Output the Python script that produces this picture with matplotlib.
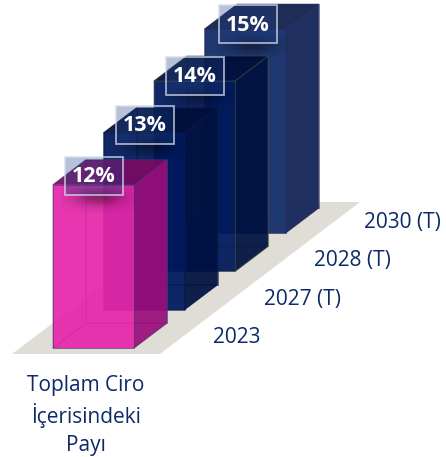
import matplotlib
matplotlib.use("Agg")
import matplotlib.pyplot as plt
import numpy as np
from matplotlib.patches import Polygon, Rectangle

plt.rcParams['font.family'] = ['Open Sans', 'DejaVu Sans']

years = ['2023', '2027 (T)', '2028 (T)', '2030 (T)']
values = [12, 13, 14, 15]
value_labels = ['12%', '13%', '14%', '15%']
row_title = ['Toplam Ciro', 'İçerisindeki', 'Payı']

# depth is faked with an oblique projection, all in pixels
UNIT_H = 13.6
STEP_X, STEP_Y = 50.5, -38.3
BOX_W = 81
DEPTH_X, DEPTH_Y = 33, -25
X0, Y0 = 53, 348

box_styles = [
    {'front': '#e626aa', 'side': '#980c7a', 'top': '#760a60', 'edge': '#4a3a78', 'alpha': 0.9, 'inner': 0.25},
    {'front': '#00195c', 'side': '#00113f', 'top': '#000e38', 'edge': '#0b1c45', 'alpha': 0.88, 'inner': 0.45},
    {'front': '#00195c', 'side': '#00113f', 'top': '#000e38', 'edge': '#3c4f3c', 'alpha': 0.88, 'inner': 0.45},
    {'front': '#1c3570', 'side': '#1c2d5e', 'top': '#1a2853', 'edge': '#2a2a5c', 'alpha': 0.97, 'inner': 0.45},
]
label_offset = [(12, -28), (12, -27), (12, -24), (14, -24)]
NAVY = '#0b2a66'


def draw_box(ax, i, value, style):
    left = X0 + i * STEP_X
    bottom = Y0 + i * STEP_Y
    right = left + BOX_W
    top = bottom - value * UNIT_H
    dx, dy = DEPTH_X, DEPTH_Y
    a = style['alpha']
    b = style['inner']
    edge = style['edge']
    faces = [
        # floor of the box, back, left, then the faces towards the viewer
        ([(left, bottom), (right, bottom), (right + dx, bottom + dy), (left + dx, bottom + dy)], style['front'], b),
        ([(left + dx, top + dy), (right + dx, top + dy), (right + dx, bottom + dy), (left + dx, bottom + dy)], style['front'], b),
        ([(left, top), (left + dx, top + dy), (left + dx, bottom + dy), (left, bottom)], style['front'], b),
        ([(right, top), (right + dx, top + dy), (right + dx, bottom + dy), (right, bottom)], style['side'], a),
        ([(left, top), (right, top), (right + dx, top + dy), (left + dx, top + dy)], style['top'], a),
        ([(left, top), (right, top), (right, bottom), (left, bottom)], style['front'], a),
    ]
    for pts, color, alpha in faces:
        ax.add_patch(Polygon(pts, closed=True, facecolor=color, alpha=alpha, edgecolor='none'))
        ax.add_patch(Polygon(pts, closed=True, fill=False, edgecolor=edge, linewidth=0.7, alpha=0.6))
    return left, top


def draw_label(ax, left, top, text, offset):
    x = left + offset[0]
    y = top + offset[1]
    w, h = 58, 38
    # soft shadow below the label
    yy, xx = np.mgrid[-1:1:40j, -1:1:80j]
    shade = np.zeros((40, 80, 4))
    shade[..., 3] = 0.4 * np.exp(-(xx ** 2 * 2.2 + yy ** 2 * 3))
    ax.imshow(shade, extent=(x - 3, x + w + 12, y + h + 18, y + h - 14), aspect='auto', zorder=4)
    ax.add_patch(Rectangle((x, y), w, h, facecolor='#1f3f85', alpha=0.32, zorder=5))
    ax.add_patch(Rectangle((x, y), w, h, fill=False, edgecolor='#d5dcec', alpha=0.75, linewidth=1.3, zorder=5))
    ax.text(x + w / 2, y + h / 2 + 1, text, color='white', fontsize=15.5, fontweight='bold',
            ha='center', va='center', zorder=6)


fig = plt.figure(figsize=(4.46, 4.57), dpi=100)
ax = fig.add_axes([0, 0, 1, 1])
ax.set_xlim(0, 446)
ax.set_ylim(457, 0)
ax.axis('off')

ax.add_patch(Polygon([(12, 354), (160, 354), (360, 202), (213, 202)], closed=True,
                     facecolor='#e0ddd6', edgecolor='none'))

label_pos = []
for i in reversed(range(len(values))):
    label_pos.append((i, draw_box(ax, i, values[i], box_styles[i])))
for i, (left, top) in label_pos:
    draw_label(ax, left, top, value_labels[i], label_offset[i])

for i, year in enumerate(years):
    ax.text(X0 + 160 + i * STEP_X, 337.5 + i * STEP_Y, year, color=NAVY, fontsize=15, ha='left', va='center')

for i, line in enumerate(row_title):
    ax.text(86, 385.5 + i * 30, line, color=NAVY, fontsize=15, ha='center', va='center')

ax.set_xlim(0, 446)
ax.set_ylim(457, 0)
fig.savefig('out.png', dpi=100)
